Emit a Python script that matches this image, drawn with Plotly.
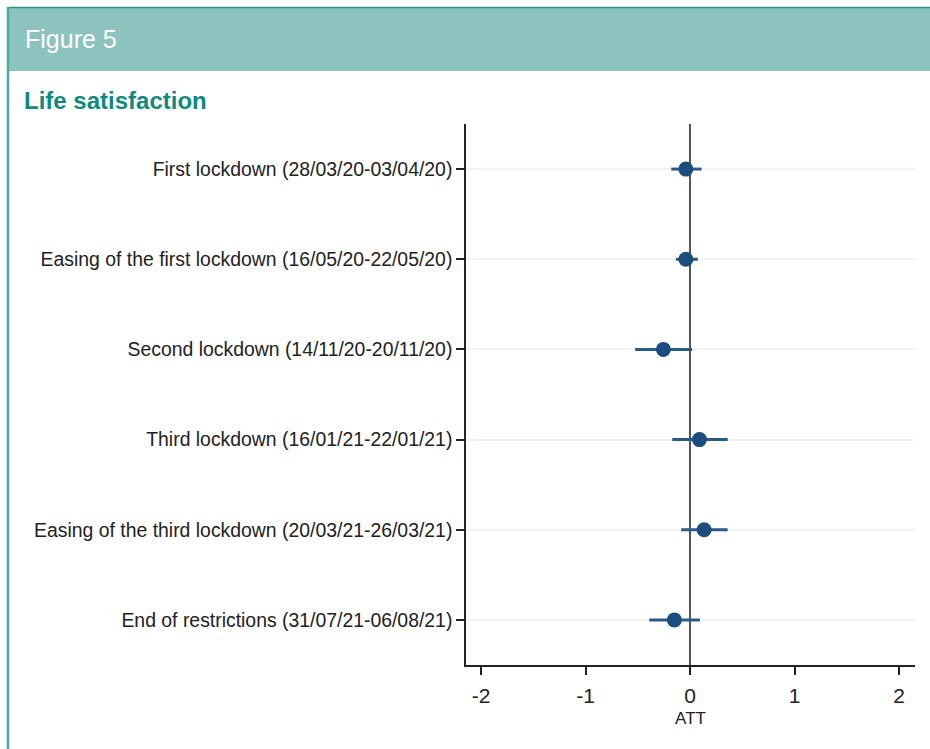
import plotly.graph_objects as go

# ---- data ----
periods = [
    "First lockdown (28/03/20-03/04/20)",
    "Easing of the first lockdown (16/05/20-22/05/20)",
    "Second lockdown (14/11/20-20/11/20)",
    "Third lockdown (16/01/21-22/01/21)",
    "Easing of the third lockdown (20/03/21-26/03/21)",
    "End of restrictions (31/07/21-06/08/21)",
]
att = [-0.04, -0.04, -0.255, 0.09, 0.135, -0.15]
ci_low = [-0.18, -0.135, -0.525, -0.17, -0.085, -0.39]
ci_high = [0.11, 0.075, 0.02, 0.36, 0.36, 0.095]
x_ticks = [-2, -1, 0, 1, 2]

err_plus = [h - a for h, a in zip(ci_high, att)]
err_minus = [a - l for a, l in zip(att, ci_low)]

FONT = "Liberation Sans, Arial, sans-serif"
TEAL_BAND = "#8cc3be"
TEAL_DARK = "#0f8a7c"
NAVY = "#1b4d7e"

W, H = 930, 749
ML, MR, MT, MB = 466, 15, 124, 84

fig = go.Figure()
fig.add_trace(go.Scatter(
    x=att, y=periods, mode="markers",
    marker=dict(color=NAVY, size=15),
    error_x=dict(type="data", symmetric=False, array=err_plus,
                 arrayminus=err_minus, width=0, thickness=3, color="#2c5a86"),
    showlegend=False, hoverinfo="x+y",
))

fig.update_layout(
    width=W, height=H,
    paper_bgcolor="white", plot_bgcolor="white",
    margin=dict(l=ML, r=MR, t=MT, b=MB),
    font=dict(family=FONT, color="#222"),
    showlegend=False,
)
fig.update_xaxes(
    range=[-2.144, 2.153], tickvals=x_ticks, ticktext=[str(v) for v in x_ticks],
    showgrid=False, zeroline=True, zerolinecolor="#555", zerolinewidth=1.5,
    showline=True, linecolor="#222", linewidth=1.5,
    ticks="outside", ticklen=8, tickcolor="#222", tickwidth=1.5,
    tickfont=dict(size=21, color="#222"), ticklabelstandoff=3,
    title=dict(text="ATT", font=dict(size=17, color="#222"), standoff=6),
)
fig.update_yaxes(
    type="category", categoryorder="array", categoryarray=periods,
    range=[5.5, -0.5],
    showgrid=True, gridcolor="#eef3f3", gridwidth=2,
    showline=True, linecolor="#222", linewidth=1.5,
    ticks="outside", ticklen=8, tickcolor="#222", tickwidth=1.5,
    tickfont=dict(size=19.4, color="#222"),
)

pw, ph = W - ML - MR, H - MT - MB
def px(x):
    return (x - ML) / pw
def py(y):
    return (H - MB - y) / ph

fig.add_shape(type="rect", xref="paper", yref="paper",
              x0=px(8), x1=px(931), y0=py(71), y1=py(7),
              fillcolor=TEAL_BAND, line_width=0, layer="below")
fig.add_shape(type="line", xref="paper", yref="paper",
              x0=px(8), x1=px(931), y0=py(7.5), y1=py(7.5),
              line=dict(color="#2a9487", width=1.5))
fig.add_shape(type="line", xref="paper", yref="paper",
              x0=px(8), x1=px(8), y0=py(7), y1=py(750),
              line=dict(color="#4aada1", width=2.5))

fig.add_annotation(xref="paper", yref="paper", x=px(23), y=py(39),
                   xanchor="left", yanchor="middle", showarrow=False,
                   text="Figure 5", font=dict(family=FONT, size=25, color="white"))
fig.add_annotation(xref="paper", yref="paper", x=px(22), y=py(101),
                   xanchor="left", yanchor="middle", showarrow=False,
                   text="<b>Life satisfaction</b>",
                   font=dict(family=FONT, size=24, color=TEAL_DARK))

fig.write_html("out.html", config={"displayModeBar": False},
               post_script="document.body.style.margin='0px';document.body.style.overflow='hidden';")
